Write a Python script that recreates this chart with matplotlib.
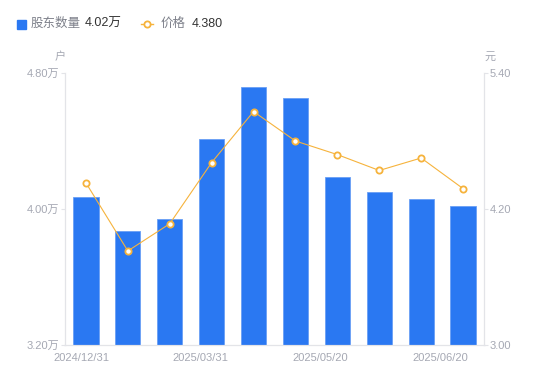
import matplotlib.pyplot as plt
import numpy as np

plt.rcParams['font.family'] = ['Liberation Sans', 'Noto Sans CJK SC', 'DejaVu Sans']
plt.rcParams['axes.unicode_minus'] = False

# 数据（单位：万户 / 元）
holders = [4.07, 3.87, 3.94, 4.41, 4.72, 4.65, 4.19, 4.10, 4.06, 4.02]
prices = [4.43, 3.83, 4.07, 4.61, 5.06, 4.80, 4.68, 4.54, 4.65, 4.38]
x_labels = ['2024/12/31', '2025/03/31', '2025/05/20', '2025/06/20']
x_label_pos = [-0.1, 2.74, 5.58, 8.45]
left_ticks = [3.2, 4.0, 4.8]
right_ticks = [3.0, 4.2, 5.4]

BLUE = '#2a78f2'
ORANGE = '#f6b33c'
GREY = '#a5a8b3'
AXIS = '#e3e4e8'

fig = plt.figure(figsize=(5.5, 3.81), dpi=100)
ax = fig.add_axes([0.1182, 0.0945, 0.7618, 0.7139])
ax2 = ax.twinx()

x = np.arange(len(holders))
ax.bar(x, holders, width=0.6, color=BLUE, edgecolor='#6a9ff5', linewidth=0.6, zorder=2)
ax.set_xlim(-0.5, len(holders) - 0.5)
ax.set_ylim(3.2, 4.8)
ax.set_yticks(left_ticks)
ax.set_yticklabels([f'{v:.2f}万' for v in left_ticks])

ax2.plot(x, prices, color=ORANGE, linewidth=0.8, marker='o', markersize=4.5,
         markerfacecolor='white', markeredgecolor=ORANGE, markeredgewidth=1.3, zorder=3)
ax2.set_ylim(3.0, 5.4)
ax2.set_yticks(right_ticks)
ax2.set_yticklabels([f'{v:.2f}' for v in right_ticks])

ax.set_xticks(x_label_pos)
ax.set_xticklabels(x_labels)

for a in (ax, ax2):
    a.spines['top'].set_visible(False)
    for s in ('left', 'right', 'bottom'):
        a.spines[s].set_color(AXIS)
        a.spines[s].set_linewidth(0.8)
    a.tick_params(axis='y', colors=AXIS, labelcolor=GREY, labelsize=8, length=3, width=0.8, pad=1)
ax.tick_params(axis='x', length=0, labelcolor=GREY, labelsize=8, pad=6)

# 单位
fig.text(60 / 550, 1 - 57 / 381, '户', color=GREY, fontsize=8, ha='center', va='center')
fig.text(490 / 550, 1 - 57 / 381, '元', color=GREY, fontsize=8, ha='center', va='center')

# 顶部图例
fig.patches.append(plt.Rectangle((17 / 550, 1 - 29 / 381), 9 / 550, 9 / 381,
                                 transform=fig.transFigure, color=BLUE, figure=fig))
fig.text(31 / 550, 1 - 24 / 381, '股东数量', color='#7d808a', fontsize=9, va='center')
fig.text(85 / 550, 1 - 24 / 381, '4.02万', color='#333333', fontsize=9, va='center')
fig.lines.append(plt.Line2D([141 / 550, 153 / 550], [1 - 24 / 381, 1 - 24 / 381],
                            transform=fig.transFigure, color=ORANGE, linewidth=1, figure=fig))
fig.lines.append(plt.Line2D([147 / 550], [1 - 24 / 381], transform=fig.transFigure,
                            color=ORANGE, marker='o', markersize=4.5, markerfacecolor='white',
                            markeredgewidth=1.3, linestyle='none', figure=fig))
fig.text(161 / 550, 1 - 24 / 381, '价格', color='#7d808a', fontsize=9, va='center')
fig.text(192 / 550, 1 - 24 / 381, '4.380', color='#333333', fontsize=9, va='center')

fig.savefig('out.png', dpi=100)
